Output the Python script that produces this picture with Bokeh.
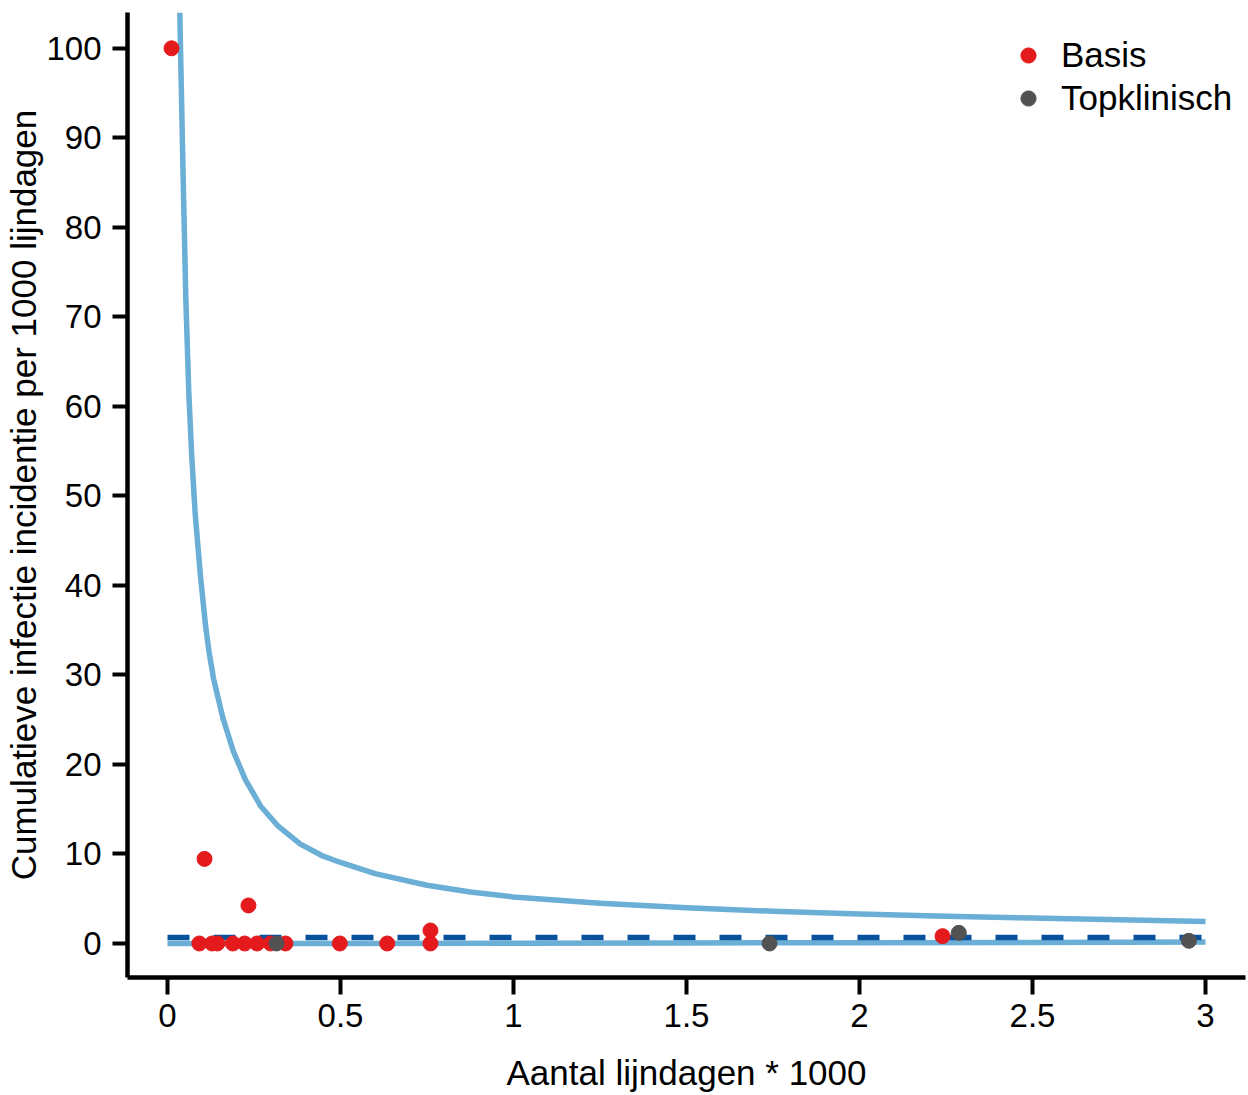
from bokeh.plotting import figure
from bokeh.models import Range1d, FixedTicker, Legend, LegendItem
from bokeh.embed import file_html
from bokeh.resources import INLINE

# ---- data ----
basis_x = [0.0116, 0.107, 0.234, 0.092, 0.129, 0.144, 0.189, 0.223, 0.259,
           0.298, 0.341, 0.498, 0.635, 0.760, 0.760, 2.240]
basis_y = [100.0, 9.45, 4.25, 0.0, 0.0, 0.0, 0.0, 0.0, 0.0,
           0.0, 0.0, 0.0, 0.0, 0.0, 1.45, 0.82]

top_x = [0.315, 1.740, 2.287, 2.952]
top_y = [0.0, 0.0, 1.19, 0.30]

upper_x = [0.0355, 0.045, 0.053, 0.0616, 0.07, 0.08, 0.0954, 0.11, 0.12, 0.133,
           0.16, 0.19, 0.225, 0.27, 0.32, 0.384, 0.45, 0.5, 0.6, 0.75, 0.875,
           1.0, 1.25, 1.5, 1.75, 2.0, 2.25, 2.5, 2.75, 3.0]
upper_y = [104.0, 86.0, 72.0, 61.5, 54.5, 48.0, 41.0, 35.5, 32.6, 29.6,
           25.2, 21.5, 18.3, 15.3, 13.1, 11.1, 9.75, 9.05, 7.8, 6.5, 5.75,
           5.2, 4.5, 4.0, 3.6, 3.3, 3.05, 2.85, 2.65, 2.46]

lower_x = [0.0, 0.5, 1.0, 1.5, 2.0, 2.5, 3.0]
lower_y = [0.0, 0.0, 0.03, 0.06, 0.09, 0.12, 0.16]

mean_x = [0.0, 3.0]
mean_y = [0.68, 0.68]

x_ticks = [0, 0.5, 1, 1.5, 2, 2.5, 3]
x_tick_labels = ["0", "0.5", "1", "1.5", "2", "2.5", "3"]
y_ticks = [0, 10, 20, 30, 40, 50, 60, 70, 80, 90, 100]

FONT = "Liberation Sans"

p = figure(width=1248, height=1095,
           x_range=Range1d(-0.1156, 3.1156), y_range=Range1d(-3.8, 104.0),
           output_backend="svg", toolbar_location=None,
           min_border_left=127, min_border_right=3,
           min_border_top=12, min_border_bottom=118)
p.grid.visible = False
p.outline_line_color = None
p.background_fill_color = "white"
p.border_fill_color = "white"

p.line(upper_x, upper_y, line_color="#6baed6", line_width=5.5, line_join="round")
p.line(lower_x, lower_y, line_color="#6baed6", line_width=5.5)
p.line(mean_x, mean_y, line_color="#08519c", line_width=5.5, line_dash="22 24")

r1 = p.scatter(basis_x, basis_y, size=15, fill_color="#e41a1c", line_color="#e41a1c")
r2 = p.scatter(top_x, top_y, size=15, fill_color="#525252", line_color="#525252")

p.xaxis.ticker = FixedTicker(ticks=x_ticks)
p.xaxis.major_label_overrides = {float(t): l for t, l in zip(x_ticks, x_tick_labels)}
p.yaxis.ticker = FixedTicker(ticks=y_ticks)

p.xaxis.axis_label = "Aantal lijndagen * 1000"
p.yaxis.axis_label = "Cumulatieve infectie incidentie per 1000 lijndagen"

for ax in (p.xaxis[0], p.yaxis[0]):
    ax.axis_line_color = "black"
    ax.axis_line_width = 4.5
    ax.major_tick_line_color = "black"
    ax.major_tick_line_width = 4
    ax.major_tick_in = 0
    ax.minor_tick_in = 0
    ax.minor_tick_out = 0
    ax.major_label_text_font = FONT
    ax.major_label_text_font_size = "33px"
    ax.major_label_text_color = "black"
    ax.axis_label_text_font = FONT
    ax.axis_label_text_font_size = "35px"
    ax.axis_label_text_font_style = "normal"
    ax.axis_label_text_color = "black"

p.xaxis.major_tick_out = 17
p.xaxis.major_label_standoff = 9
p.xaxis.axis_label_standoff = 23
p.yaxis.major_tick_out = 15
p.yaxis.major_label_standoff = 11
p.yaxis.axis_label_standoff = 0

legend = Legend(items=[LegendItem(label="Basis", renderers=[r1]),
                       LegendItem(label="Topklinisch", renderers=[r2])],
                location=(882, 859), glyph_width=38, glyph_height=38,
                label_standoff=14, spacing=3, padding=0, margin=0,
                border_line_color=None, background_fill_alpha=0,
                label_text_font=FONT, label_text_font_size="35px",
                label_text_color="black")
p.add_layout(legend)

open("out.html", "w").write(file_html(p, INLINE))
